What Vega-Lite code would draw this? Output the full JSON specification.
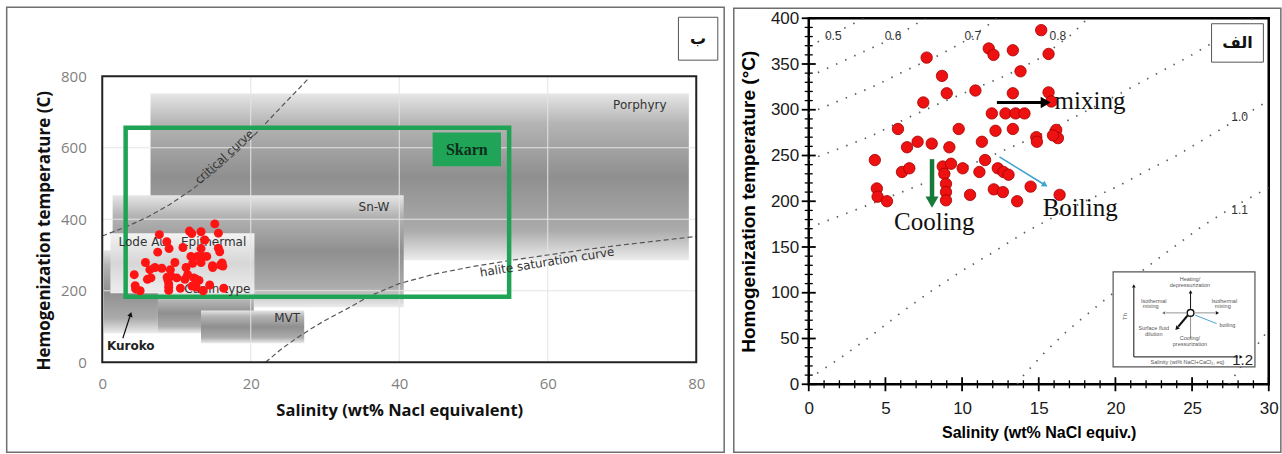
{
  "$schema": "https://vega.github.io/schema/vega-lite/v6.json",
  "background": "white",
  "padding": {"left": 5.25, "top": 6.25, "right": 0, "bottom": 0},
  "bounds": "flush",
  "spacing": 112.5,
  "config": {"view": {"stroke": null}},
  "datasets": {
    "fi": [
      {"x":15.16,"y":387},{"x":15.64,"y":361},{"x":11.74,"y":367},{"x":12.05,"y":360},{"x":13.31,"y":365},{"x":7.69,"y":357},{"x":13.81,"y":342},{"x":8.69,"y":337},{"x":9.0,"y":318},{"x":10.87,"y":321},{"x":13.31,"y":318},{"x":15.64,"y":319},{"x":15.82,"y":309},{"x":7.47,"y":308},{"x":11.94,"y":296},{"x":12.83,"y":296},{"x":13.49,"y":296},{"x":14.07,"y":296},{"x":5.82,"y":279},{"x":9.78,"y":279},{"x":12.18,"y":277},{"x":13.31,"y":279},{"x":16.14,"y":278},{"x":16.25,"y":269},{"x":15.93,"y":272},{"x":14.84,"y":270},{"x":14.88,"y":265},{"x":6.41,"y":259},{"x":7.1,"y":265},{"x":8.02,"y":263},{"x":9.17,"y":259},{"x":11.29,"y":265},{"x":4.31,"y":245},{"x":6.08,"y":232},{"x":6.56,"y":236},{"x":8.74,"y":238},{"x":9.28,"y":241},{"x":8.84,"y":230},{"x":8.95,"y":219},{"x":8.95,"y":210},{"x":8.95,"y":201},{"x":10.04,"y":236},{"x":11.13,"y":232},{"x":11.5,"y":245},{"x":12.33,"y":236},{"x":12.7,"y":232},{"x":13.03,"y":229},{"x":4.44,"y":214},{"x":4.49,"y":205},{"x":5.1,"y":200},{"x":10.52,"y":207},{"x":12.07,"y":213},{"x":12.66,"y":210},{"x":13.59,"y":200},{"x":14.47,"y":216},{"x":16.36,"y":207}
    ],
    "fieldsL": [
      {"f":"Porphyry","x":6.5,"x2":79,"y":285,"y2":752},
      {"f":"Sn-W","x":1.4,"x2":40.6,"y":154,"y2":467},
      {"f":"Kuroko","x":0.2,"x2":7.5,"y":81,"y2":313},
      {"f":"Carlin-type","x":7.5,"x2":20.4,"y":81,"y2":193},
      {"f":"MVT","x":13.3,"x2":27.2,"y":53,"y2":145},
      {"f":"Epithermal","x":1.1,"x2":20.5,"y":193,"y2":361}
    ],
    "gridL": [
      {"x":20,"x2":20,"y":0,"y2":800},{"x":40,"x2":40,"y":0,"y2":800},{"x":60,"x2":60,"y":0,"y2":800},
      {"x":0,"x2":80,"y":200,"y2":200},{"x":0,"x2":80,"y":400,"y2":400},{"x":0,"x2":80,"y":600,"y2":600}
    ],
    "curvesL": [
      {"c":"critical","x":0,"y":353},{"c":"critical","x":3,"y":377},{"c":"critical","x":6,"y":405},{"c":"critical","x":9,"y":440},{"c":"critical","x":12,"y":482},{"c":"critical","x":15,"y":530},{"c":"critical","x":18,"y":585},{"c":"critical","x":21,"y":646},{"c":"critical","x":24,"y":712},{"c":"critical","x":27.7,"y":792},
      {"c":"halite","x":22,"y":0},{"c":"halite","x":24,"y":35},{"c":"halite","x":26,"y":65},{"c":"halite","x":28,"y":92},{"c":"halite","x":30,"y":117},{"c":"halite","x":33,"y":150},{"c":"halite","x":36,"y":185},{"c":"halite","x":40,"y":220},{"c":"halite","x":45,"y":248},{"c":"halite","x":50,"y":268},{"c":"halite","x":55,"y":285},{"c":"halite","x":60,"y":300},{"c":"halite","x":65,"y":315},{"c":"halite","x":70,"y":328},{"c":"halite","x":75,"y":340},{"c":"halite","x":80,"y":352}
    ],
    "boxesL": [
      {"b":"outer","x":-12.87,"x2":83.76,"y":-251.7,"y2":993},
      {"b":"plot","x":0,"x2":80,"y":0,"y2":800},
      {"b":"skarn","x":3.15,"x2":54.8,"y":183,"y2":656},
      {"b":"skarnlab","x":44.5,"x2":53.7,"y":548,"y2":643},
      {"b":"tag","x":77.6,"x2":82.9,"y":845,"y2":965}
    ],
    "annL": [
      {"k":"field","t":"Porphyry","x":72.4,"y":719},
      {"k":"field","t":"Sn-W","x":36.6,"y":434},
      {"k":"field","t":"Lode Au","x":5.45,"y":336},
      {"k":"field","t":"Epithermal","x":15.0,"y":336},
      {"k":"field","t":"Carlin-type","x":15.5,"y":204},
      {"k":"field","t":"MVT","x":24.9,"y":124},
      {"k":"kuroko","t":"Kuroko","x":3.84,"y":46},
      {"k":"crit","t":"critical curve","x":16.5,"y":573},
      {"k":"halite","t":"halite saturation curve","x":59.9,"y":280},
      {"k":"skarn","t":"Skarn","x":49.1,"y":595},
      {"k":"tag","t":"ب","x":80.25,"y":905}
    ],
    "arrowL": [{"x":2.77,"y":67,"x2":3.75,"y2":130}],
    "headL": [{"x":3.82,"y":134}],
    "ticksX": [{"x":0,"y":0},{"x":1,"y":0},{"x":2,"y":0},{"x":3,"y":0},{"x":4,"y":0},{"x":5,"y":0},{"x":6,"y":0},{"x":7,"y":0},{"x":8,"y":0},{"x":9,"y":0},{"x":10,"y":0},{"x":11,"y":0},{"x":12,"y":0},{"x":13,"y":0},{"x":14,"y":0},{"x":15,"y":0},{"x":16,"y":0},{"x":17,"y":0},{"x":18,"y":0},{"x":19,"y":0},{"x":20,"y":0},{"x":21,"y":0},{"x":22,"y":0},{"x":23,"y":0},{"x":24,"y":0},{"x":25,"y":0},{"x":26,"y":0},{"x":27,"y":0},{"x":28,"y":0},{"x":29,"y":0},{"x":30,"y":0}],
    "ticksY": [{"x":0,"y":0},{"x":0,"y":10},{"x":0,"y":20},{"x":0,"y":30},{"x":0,"y":40},{"x":0,"y":50},{"x":0,"y":60},{"x":0,"y":70},{"x":0,"y":80},{"x":0,"y":90},{"x":0,"y":100},{"x":0,"y":110},{"x":0,"y":120},{"x":0,"y":130},{"x":0,"y":140},{"x":0,"y":150},{"x":0,"y":160},{"x":0,"y":170},{"x":0,"y":180},{"x":0,"y":190},{"x":0,"y":200},{"x":0,"y":210},{"x":0,"y":220},{"x":0,"y":230},{"x":0,"y":240},{"x":0,"y":250},{"x":0,"y":260},{"x":0,"y":270},{"x":0,"y":280},{"x":0,"y":290},{"x":0,"y":300},{"x":0,"y":310},{"x":0,"y":320},{"x":0,"y":330},{"x":0,"y":340},{"x":0,"y":350},{"x":0,"y":360},{"x":0,"y":370},{"x":0,"y":380},{"x":0,"y":390},{"x":0,"y":400}],
    "isoR": [
      {"iso":"0.5","x":0,"y":369},{"iso":"0.5","x":1.6,"y":383},{"iso":"0.5","x":3.6,"y":400},
      {"iso":"0.6","x":0,"y":336},{"iso":"0.6","x":3.07,"y":359.6},{"iso":"0.6","x":5.5,"y":378},{"iso":"0.6","x":7.6,"y":400},
      {"iso":"0.7","x":0,"y":296},{"iso":"0.7","x":4.16,"y":325},{"iso":"0.7","x":6.34,"y":343},{"iso":"0.7","x":8.5,"y":359.6},{"iso":"0.7","x":10.5,"y":378},{"iso":"0.7","x":12.3,"y":400},
      {"iso":"0.8","x":0,"y":245},{"iso":"0.8","x":2,"y":257.6},{"iso":"0.8","x":4.16,"y":272},{"iso":"0.8","x":6.3,"y":290},{"iso":"0.8","x":8.5,"y":306.7},{"iso":"0.8","x":12.9,"y":337.7},{"iso":"0.8","x":15.05,"y":356},{"iso":"0.8","x":17.2,"y":383},{"iso":"0.8","x":18.2,"y":400},
      {"iso":"0.9","x":0,"y":171},{"iso":"0.9","x":5,"y":203},{"iso":"0.9","x":10,"y":236},{"iso":"0.9","x":15,"y":272},{"iso":"0.9","x":20,"y":315},{"iso":"0.9","x":25,"y":360},{"iso":"0.9","x":29,"y":400},
      {"iso":"1.0","x":0,"y":6},{"iso":"1.0","x":2,"y":28},{"iso":"1.0","x":4,"y":52},{"iso":"1.0","x":6,"y":78},{"iso":"1.0","x":8,"y":102},{"iso":"1.0","x":10,"y":124},{"iso":"1.0","x":12,"y":144},{"iso":"1.0","x":14,"y":165},{"iso":"1.0","x":16,"y":183},{"iso":"1.0","x":18,"y":200},{"iso":"1.0","x":20,"y":215},{"iso":"1.0","x":22,"y":233},{"iso":"1.0","x":24,"y":250},{"iso":"1.0","x":26,"y":270},{"iso":"1.0","x":28,"y":290},{"iso":"1.0","x":30,"y":310},
      {"iso":"1.1","x":13.6,"y":0},{"iso":"1.1","x":13.9,"y":7.7},{"iso":"1.1","x":15.4,"y":35},{"iso":"1.1","x":16.9,"y":59},{"iso":"1.1","x":19.5,"y":95},{"iso":"1.1","x":21.2,"y":117},{"iso":"1.1","x":23,"y":140},{"iso":"1.1","x":25.6,"y":172},{"iso":"1.1","x":27.5,"y":192},{"iso":"1.1","x":30,"y":215},
      {"iso":"1.2","x":27.4,"y":0},{"iso":"1.2","x":28.3,"y":22},{"iso":"1.2","x":29.2,"y":42},{"iso":"1.2","x":30,"y":60}
    ],
    "boxesR": [
      {"b":"outer","x":-4.89,"x2":30.79,"y":-74.3,"y2":410.9},
      {"b":"tag","x":26.27,"x2":29.65,"y":352,"y2":394},
      {"b":"inset","x":19.85,"x2":29.1,"y":18.9,"y2":122.8}
    ],
    "arrowsR": [
      {"a":"mix","x":12.27,"y":308,"x2":15.3,"y2":308},
      {"a":"cool","x":8.04,"y":246,"x2":8.04,"y2":201},
      {"a":"boil","x":12.44,"y":248.5,"x2":15.3,"y2":218.8}
    ],
    "headsR": [
      {"h":"mix","x":15.45,"y":308},{"h":"cool","x":8.04,"y":199},{"h":"boil","x":15.41,"y":217.7},
      {"h":"up","x":21.2,"y":107.5},{"h":"up","x":24.9,"y":101},{"h":"right","x":28.2,"y":29.9},{"h":"right","x":26.65,"y":78},{"h":"left","x":23.15,"y":78},{"h":"dl","x":24.0,"y":61}
    ],
    "insR": [
      {"k":"ax","x":21.2,"y":29.9,"x2":21.2,"y2":106},
      {"k":"ax","x":21.2,"y":29.9,"x2":28.0,"y2":29.9},
      {"k":"ax","x":24.9,"y":82.5,"x2":24.9,"y2":100},
      {"k":"thin","x":24.9,"y":73.5,"x2":24.9,"y2":50},
      {"k":"thin","x":23.3,"y":78,"x2":24.6,"y2":78},
      {"k":"thin","x":25.2,"y":78,"x2":26.5,"y2":78},
      {"k":"thick","x":24.7,"y":75,"x2":24.1,"y2":63},
      {"k":"blue","x":25.2,"y":75.5,"x2":26.6,"y2":66.3}
    ],
    "ringR": [{"x":24.9,"y":78}],
    "annR": [
      {"k":"iso","t":"0.5","x":1.6,"y":381},{"k":"iso","t":"0.6","x":5.5,"y":381},{"k":"iso","t":"0.7","x":10.7,"y":381},{"k":"iso","t":"0.8","x":16.25,"y":381},{"k":"iso","t":"1.0","x":28.1,"y":292},{"k":"iso","t":"1.1","x":28.1,"y":190},
      {"k":"big","t":"mixing","x":18.34,"y":310},{"k":"big","t":"Cooling","x":8.19,"y":177},{"k":"big","t":"Boiling","x":17.7,"y":193},
      {"k":"tag","t":"الف","x":27.96,"y":373},
      {"k":"l12","t":"1.2","x":28.3,"y":26},
      {"k":"in","t":"Heating/","x":24.86,"y":114.5},{"k":"in","t":"depressurization","x":24.86,"y":108.5},
      {"k":"in","t":"Isothermal","x":22.5,"y":91},{"k":"in","t":"mixing","x":22.3,"y":85},
      {"k":"in","t":"Isothermal","x":27.1,"y":91},{"k":"in","t":"mixing","x":27.0,"y":85},
      {"k":"in","t":"Surface fluid","x":22.5,"y":61},{"k":"in","t":"dilution","x":22.5,"y":55},
      {"k":"in","t":"Cooling/","x":24.86,"y":50.5},{"k":"in","t":"pressurization","x":24.86,"y":44.5},
      {"k":"in","t":"boiling","x":27.3,"y":64.5},
      {"k":"in","t":"Salinity (wt% NaCl+CaCl₂, eq)","x":24.7,"y":24.5},
      {"k":"th","t":"Th","x":20.6,"y":74}
    ]
  },
  "hconcat": [
    {
      "width": 594,
      "height": 344,
      "encoding": {
        "x": {"field": "x", "type": "quantitative", "scale": {"domain": [0, 80], "nice": false, "zero": false},
          "axis": {"title": "Salinity (wt% Nacl equivalent)", "values": [0, 20, 40, 60, 80], "domain": false, "ticks": false, "grid": false,
            "labelFont": "Open Sans", "labelFontSize": 15, "labelColor": "#7f7f7f", "labelPadding": 14, "labelFlush": false,
            "titleFont": "Open Sans", "titleFontSize": 16.5, "titleFontWeight": "bold", "titleColor": "#111111", "titlePadding": 11}},
        "y": {"field": "y", "type": "quantitative", "scale": {"domain": [0, 962.24], "nice": false, "zero": false},
          "axis": {"title": "Hemogenization temperature (C)", "values": [0, 200, 400, 600, 800], "domain": false, "ticks": false, "grid": false,
            "labelFont": "Open Sans", "labelFontSize": 15, "labelColor": "#7f7f7f", "labelPadding": 16, "labelFlush": false,
            "titleFont": "Open Sans", "titleFontSize": 17, "titleFontWeight": "bold", "titleColor": "#111111", "titlePadding": 7, "titleY": 212}}
      },
      "layer": [
        {"data": {"name": "boxesL"}, "transform": [{"filter": "datum.b === 'outer'"}],
          "mark": {"type": "rect", "filled": false, "stroke": "#6e6e6e", "strokeWidth": 1.5},
          "encoding": {"x2": {"field": "x2"}, "y2": {"field": "y2"}}},
        {"data": {"name": "fieldsL"}, "transform": [{"filter": "datum.f !== 'Epithermal'"}],
          "mark": {"type": "rect", "fill": {"gradient": "linear", "x1": 0, "y1": 0, "x2": 0, "y2": 1,
            "stops": [{"offset": 0, "color": "#e6e6e6"}, {"offset": 0.18, "color": "#b4b4b4"}, {"offset": 0.5, "color": "#8f8f8f"}, {"offset": 0.82, "color": "#ababab"}, {"offset": 1, "color": "#ececec"}]}},
          "encoding": {"x2": {"field": "x2"}, "y2": {"field": "y2"}}},
        {"data": {"name": "fieldsL"}, "transform": [{"filter": "datum.f === 'Epithermal'"}],
          "mark": {"type": "rect", "fill": {"gradient": "linear", "x1": 0, "y1": 0, "x2": 0, "y2": 1,
            "stops": [{"offset": 0, "color": "#f3f3f3"}, {"offset": 0.5, "color": "#d6d6d6"}, {"offset": 1, "color": "#efefef"}]}},
          "encoding": {"x2": {"field": "x2"}, "y2": {"field": "y2"}}},
        {"data": {"name": "gridL"}, "mark": {"type": "rule", "color": "#e4e4e4", "strokeWidth": 1},
          "encoding": {"x2": {"field": "x2"}, "y2": {"field": "y2"}}},
        {"data": {"name": "curvesL"}, "mark": {"type": "line", "color": "#555555", "strokeDash": [5, 3], "strokeWidth": 1.2},
          "encoding": {"detail": {"field": "c"}}},
        {"data": {"name": "boxesL"}, "transform": [{"filter": "datum.b === 'skarn'"}],
          "mark": {"type": "rect", "filled": false, "stroke": "#1fa456", "strokeWidth": 4.5},
          "encoding": {"x2": {"field": "x2"}, "y2": {"field": "y2"}}},
        {"data": {"name": "boxesL"}, "transform": [{"filter": "datum.b === 'skarnlab'"}],
          "mark": {"type": "rect", "fill": "#1fa458"},
          "encoding": {"x2": {"field": "x2"}, "y2": {"field": "y2"}}},
        {"data": {"name": "annL"}, "transform": [{"filter": "datum.k === 'field'"}],
          "mark": {"type": "text", "font": "DejaVu Sans", "fontSize": 12, "color": "#333333", "align": "center", "baseline": "middle"},
          "encoding": {"text": {"field": "t"}}},
        {"data": {"name": "annL"}, "transform": [{"filter": "datum.k === 'kuroko'"}],
          "mark": {"type": "text", "font": "DejaVu Sans", "fontSize": 12, "fontWeight": "bold", "color": "#222222", "align": "center", "baseline": "middle"},
          "encoding": {"text": {"field": "t"}}},
        {"data": {"name": "annL"}, "transform": [{"filter": "datum.k === 'crit'"}],
          "mark": {"type": "text", "font": "DejaVu Sans", "fontSize": 11.5, "color": "#333333", "align": "center", "baseline": "middle", "angle": -42},
          "encoding": {"text": {"field": "t"}}},
        {"data": {"name": "annL"}, "transform": [{"filter": "datum.k === 'halite'"}],
          "mark": {"type": "text", "font": "DejaVu Sans", "fontSize": 12, "color": "#333333", "align": "center", "baseline": "middle", "angle": -9},
          "encoding": {"text": {"field": "t"}}},
        {"data": {"name": "annL"}, "transform": [{"filter": "datum.k === 'skarn'"}],
          "mark": {"type": "text", "font": "Liberation Serif", "fontSize": 16, "fontWeight": "bold", "color": "#0f2f1a", "align": "center", "baseline": "middle"},
          "encoding": {"text": {"field": "t"}}},
        {"data": {"name": "arrowL"}, "mark": {"type": "rule", "color": "#111111", "strokeWidth": 1.2},
          "encoding": {"x2": {"field": "x2"}, "y2": {"field": "y2"}}},
        {"data": {"name": "headL"}, "mark": {"type": "point", "shape": "triangle-up", "filled": true, "color": "#111111", "size": 30, "angle": 17, "opacity": 1}},
        {"data": {"name": "fi"}, "mark": {"type": "circle", "size": 80, "color": "#ff1414", "opacity": 1}},
        {"data": {"name": "boxesL"}, "transform": [{"filter": "datum.b === 'plot'"}],
          "mark": {"type": "rect", "filled": false, "stroke": "#222222", "strokeWidth": 2},
          "encoding": {"x2": {"field": "x2"}, "y2": {"field": "y2"}}},
        {"data": {"name": "boxesL"}, "transform": [{"filter": "datum.b === 'tag'"}],
          "mark": {"type": "rect", "fill": "white", "stroke": "#555555", "strokeWidth": 1},
          "encoding": {"x2": {"field": "x2"}, "y2": {"field": "y2"}}},
        {"data": {"name": "annL"}, "transform": [{"filter": "datum.k === 'tag'"}],
          "mark": {"type": "text", "font": "DejaVu Sans", "fontSize": 16, "fontWeight": "bold", "color": "#111111", "align": "center", "baseline": "middle"},
          "encoding": {"text": {"field": "t"}}}
      ]
    },
    {
      "width": 460,
      "height": 366,
      "view": {"stroke": "#000000", "strokeWidth": 2.5},
      "encoding": {
        "x": {"field": "x", "type": "quantitative", "scale": {"domain": [0, 30], "nice": false, "zero": false},
          "axis": {"title": "Salinity (wt% NaCl equiv.)", "values": [0, 5, 10, 15, 20, 25, 30], "domain": false, "grid": false, "ticks": false,
            "labelFont": "Liberation Sans", "labelFontSize": 17, "labelColor": "#1a1a1a", "labelPadding": 16, "labelFlush": false, "labelOverlap": false,
            "titleFont": "Liberation Sans", "titleFontSize": 16, "titleFontWeight": "bold", "titleColor": "#000000", "titlePadding": 8}},
        "y": {"field": "y", "type": "quantitative", "scale": {"domain": [0, 400], "nice": false, "zero": false},
          "axis": {"title": "Homogenization temperature (°C)", "values": [0, 50, 100, 150, 200, 250, 300, 350, 400], "domain": false, "grid": false, "ticks": false,
            "labelFont": "Liberation Sans", "labelFontSize": 17, "labelColor": "#1a1a1a", "labelPadding": 10, "labelFlush": false, "labelOverlap": false,
            "titleFont": "Liberation Sans", "titleFontSize": 19, "titleFontWeight": "bold", "titleColor": "#000000", "titlePadding": 12}}
      },
      "layer": [
        {"data": {"name": "boxesR"}, "transform": [{"filter": "datum.b === 'outer'"}],
          "mark": {"type": "rect", "filled": false, "stroke": "#6e6e6e", "strokeWidth": 1.5},
          "encoding": {"x2": {"field": "x2"}, "y2": {"field": "y2"}}},
        {"data": {"name": "isoR"}, "mark": {"type": "line", "clip": true, "color": "#5e5e5e", "strokeWidth": 1.7, "strokeDash": [1.5, 8.5]},
          "encoding": {"detail": {"field": "iso"}}},
        {"data": {"name": "annR"}, "transform": [{"filter": "datum.k === 'iso'"}],
          "mark": {"type": "text", "font": "Liberation Sans", "fontSize": 12, "color": "#333333", "align": "center", "baseline": "middle"},
          "encoding": {"text": {"field": "t"}}},
        {"data": {"name": "fi"}, "mark": {"type": "circle", "size": 130, "fill": "#ee1111", "stroke": "#a30000", "strokeWidth": 0.8, "opacity": 1}},
        {"data": {"name": "arrowsR"}, "transform": [{"filter": "datum.a === 'mix'"}],
          "mark": {"type": "rule", "color": "#000000", "strokeWidth": 3},
          "encoding": {"x2": {"field": "x2"}, "y2": {"field": "y2"}}},
        {"data": {"name": "arrowsR"}, "transform": [{"filter": "datum.a === 'cool'"}],
          "mark": {"type": "rule", "color": "#177a3a", "strokeWidth": 4.5},
          "encoding": {"x2": {"field": "x2"}, "y2": {"field": "y2"}}},
        {"data": {"name": "arrowsR"}, "transform": [{"filter": "datum.a === 'boil'"}],
          "mark": {"type": "rule", "color": "#3ea3d0", "strokeWidth": 1.6},
          "encoding": {"x2": {"field": "x2"}, "y2": {"field": "y2"}}},
        {"data": {"name": "headsR"}, "transform": [{"filter": "datum.h === 'mix'"}],
          "mark": {"type": "point", "shape": "triangle-right", "filled": true, "color": "#000000", "size": 130, "opacity": 1}},
        {"data": {"name": "headsR"}, "transform": [{"filter": "datum.h === 'cool'"}],
          "mark": {"type": "point", "shape": "triangle-down", "filled": true, "color": "#177a3a", "size": 170, "opacity": 1}},
        {"data": {"name": "headsR"}, "transform": [{"filter": "datum.h === 'boil'"}],
          "mark": {"type": "point", "shape": "triangle-right", "filled": true, "color": "#3ea3d0", "size": 45, "angle": 32, "opacity": 1}},
        {"data": {"name": "annR"}, "transform": [{"filter": "datum.k === 'big'"}],
          "mark": {"type": "text", "font": "Liberation Serif", "fontSize": 25, "color": "#111111", "align": "center", "baseline": "middle"},
          "encoding": {"text": {"field": "t"}}},
        {"data": {"name": "boxesR"}, "transform": [{"filter": "datum.b === 'tag'"}],
          "mark": {"type": "rect", "fill": "white", "stroke": "#555555", "strokeWidth": 1},
          "encoding": {"x2": {"field": "x2"}, "y2": {"field": "y2"}}},
        {"data": {"name": "annR"}, "transform": [{"filter": "datum.k === 'tag'"}],
          "mark": {"type": "text", "font": "DejaVu Sans", "fontSize": 16, "fontWeight": "bold", "color": "#111111", "align": "center", "baseline": "middle"},
          "encoding": {"text": {"field": "t"}}},
        {"data": {"name": "boxesR"}, "transform": [{"filter": "datum.b === 'inset'"}],
          "mark": {"type": "rect", "fill": "white", "stroke": "#555555", "strokeWidth": 1.2},
          "encoding": {"x2": {"field": "x2"}, "y2": {"field": "y2"}}},
        {"data": {"name": "insR"}, "transform": [{"filter": "datum.k === 'ax'"}],
          "mark": {"type": "rule", "color": "#111111", "strokeWidth": 1},
          "encoding": {"x2": {"field": "x2"}, "y2": {"field": "y2"}}},
        {"data": {"name": "insR"}, "transform": [{"filter": "datum.k === 'thin'"}],
          "mark": {"type": "rule", "color": "#777777", "strokeWidth": 0.8},
          "encoding": {"x2": {"field": "x2"}, "y2": {"field": "y2"}}},
        {"data": {"name": "insR"}, "transform": [{"filter": "datum.k === 'thick'"}],
          "mark": {"type": "rule", "color": "#111111", "strokeWidth": 2.2},
          "encoding": {"x2": {"field": "x2"}, "y2": {"field": "y2"}}},
        {"data": {"name": "insR"}, "transform": [{"filter": "datum.k === 'blue'"}],
          "mark": {"type": "rule", "color": "#4aa3d8", "strokeWidth": 1},
          "encoding": {"x2": {"field": "x2"}, "y2": {"field": "y2"}}},
        {"data": {"name": "headsR"}, "transform": [{"filter": "datum.h === 'up'"}],
          "mark": {"type": "point", "shape": "triangle-up", "filled": true, "color": "#111111", "size": 14, "opacity": 1}},
        {"data": {"name": "headsR"}, "transform": [{"filter": "datum.h === 'right'"}],
          "mark": {"type": "point", "shape": "triangle-right", "filled": true, "color": "#111111", "size": 14, "opacity": 1}},
        {"data": {"name": "headsR"}, "transform": [{"filter": "datum.h === 'left'"}],
          "mark": {"type": "point", "shape": "triangle-left", "filled": true, "color": "#666666", "size": 12, "opacity": 1}},
        {"data": {"name": "headsR"}, "transform": [{"filter": "datum.h === 'dl'"}],
          "mark": {"type": "point", "shape": "triangle-down", "filled": true, "color": "#111111", "size": 22, "angle": 42, "opacity": 1}},
        {"data": {"name": "ringR"}, "mark": {"type": "point", "shape": "circle", "filled": false, "stroke": "#111111", "strokeWidth": 1.4, "size": 45, "opacity": 1}},
        {"data": {"name": "annR"}, "transform": [{"filter": "datum.k === 'in'"}],
          "mark": {"type": "text", "font": "Liberation Sans", "fontSize": 5.5, "color": "#555555", "align": "center", "baseline": "middle"},
          "encoding": {"text": {"field": "t"}}},
        {"data": {"name": "annR"}, "transform": [{"filter": "datum.k === 'th'"}],
          "mark": {"type": "text", "font": "Liberation Sans", "fontSize": 6, "color": "#555555", "align": "center", "baseline": "middle", "angle": 270},
          "encoding": {"text": {"field": "t"}}},
        {"data": {"name": "annR"}, "transform": [{"filter": "datum.k === 'l12'"}],
          "mark": {"type": "text", "font": "Liberation Sans", "fontSize": 15, "color": "#222222", "align": "center", "baseline": "middle"},
          "encoding": {"text": {"field": "t"}}},
        {"data": {"name": "ticksX"}, "transform": [{"filter": "datum.x % 5 === 0"}],
          "mark": {"type": "tick", "orient": "vertical", "size": 14, "thickness": 1.8, "color": "#000000", "opacity": 1}},
        {"data": {"name": "ticksX"}, "transform": [{"filter": "datum.x % 5 !== 0"}],
          "mark": {"type": "tick", "orient": "vertical", "size": 8, "thickness": 1.3, "color": "#000000", "opacity": 1}},
        {"data": {"name": "ticksY"}, "transform": [{"filter": "datum.y % 50 === 0"}],
          "mark": {"type": "tick", "orient": "horizontal", "size": 14, "thickness": 1.8, "color": "#000000", "opacity": 1}},
        {"data": {"name": "ticksY"}, "transform": [{"filter": "datum.y % 50 !== 0"}],
          "mark": {"type": "tick", "orient": "horizontal", "size": 8, "thickness": 1.3, "color": "#000000", "opacity": 1}}
      ]
    }
  ]
}
